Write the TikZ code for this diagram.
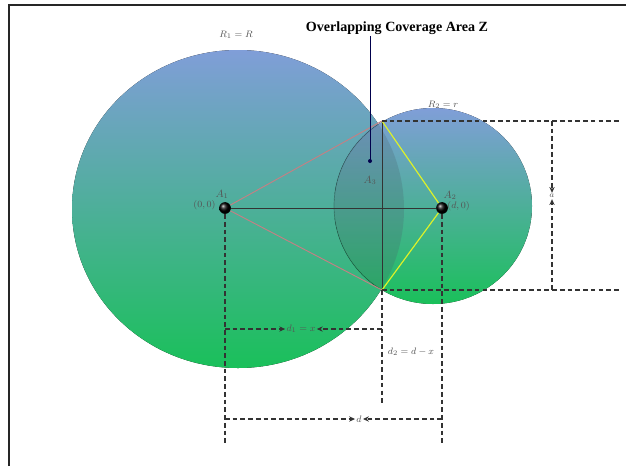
\documentclass[tikz,border=0pt]{standalone}
\usepackage{fontspec}
\setmainfont{Liberation Serif}
\usetikzlibrary{arrows.meta}

\definecolor{capTop}{RGB}{128,158,216}
\definecolor{capMid}{RGB}{68,166,162}
\definecolor{capBot}{RGB}{26,192,90}
\definecolor{spokePink}{RGB}{196,128,132}
\definecolor{spokeYellow}{RGB}{222,242,40}
\definecolor{lblGray}{RGB}{85,85,85}

\begin{document}
\begin{tikzpicture}[
  x=0.03cm, y=-0.03cm,
  cover/.style={top color=capTop, middle color=capMid, bottom color=capBot},
  dim/.style={dash pattern=on 4pt off 2.6pt, line width=1pt, black!80},
  dimarrow/.style={dim, -{Stealth[length=5pt, width=4.5pt]}},
  lbl/.style={font=\footnotesize, text=lblGray, inner sep=1pt},
  hub/.style={circle, ball color=black, inner sep=0pt, minimum size=10pt},
]
\useasboundingbox (0,0) rectangle (626,466);

% Circle geometry (pixel units)
\def\Rx{166}     % big circle x radius
\def\Ry{159}     % big circle y radius
\def\rx{99}      % small circle x radius
\def\ry{98}      % small circle y radius

\coordinate (B) at (238,209);   % big circle centre
\coordinate (S) at (433,206);   % small circle centre
\coordinate (P) at (382,121);   % upper crossing
\coordinate (Q) at (382,290);   % lower crossing

% ============================================================
% FRAME
% ============================================================
\draw[black!85, line width=1.2pt] (9,466) -- (9,5) -- (626,5);

% ============================================================
% COVERAGE DISCS
% ============================================================
\fill[cover] (B) ellipse [x radius=\Rx, y radius=\Ry];
\fill[cover] (S) ellipse [x radius=\rx, y radius=\ry];

% overlapping lens
\begin{scope}
  \clip (B) ellipse [x radius=\Rx, y radius=\Ry];
  \fill[cyan!35!black, opacity=0.25] (S) ellipse [x radius=\rx, y radius=\ry];
  \draw[black, opacity=0.25, line width=0.6pt]
    (S) ellipse [x radius=\rx, y radius=\ry];
\end{scope}

% ============================================================
% CENTRES AND CHORD
% ============================================================
\node[hub] (A1) at (225,208) {};
\node[hub] (A2) at (442,208) {};

\draw[black!80, line width=0.6pt] (A1) -- (A2);
\draw[black!80, line width=0.6pt] (P) -- (Q);
\draw[spokePink, line width=0.8pt] (A1) -- (P);
\draw[spokePink, line width=0.8pt] (A1) -- (Q);
\draw[spokeYellow, line width=1pt] (A2) -- (P);
\draw[spokeYellow, line width=1pt] (A2) -- (Q);

\node[lbl, font=\small, anchor=south] (a1lbl) at (222,200) {$A_1$};
\node[lbl, anchor=east] (o1lbl) at (217,205) {$(0,0)$};
\node[lbl, font=\small, anchor=south] (a2lbl) at (450,201) {$A_2$};
\node[lbl, anchor=west] (o2lbl) at (446,206) {$(d,0)$};

% ============================================================
% TITLE AND POINTER
% ============================================================
\node[font=\fontsize{12}{14}\selectfont\bfseries, inner sep=1pt] (title)
  at (397,28) {Overlapping Coverage Area Z};
\coordinate (ptr) at (370,161);
\draw[black!70!blue, line width=0.8pt] (title.south -| ptr) -- (ptr);
\fill[black!70!blue] (ptr) circle [radius=2];
\node[lbl, font=\small] (a3lbl) at (370,180) {$A_3$};

\node[lbl] (r1lbl) at (236,35) {$R_1 = R$};
\node[lbl] (r2lbl) at (443,105) {$R_2 = r$};

% ============================================================
% DIMENSION a (right)
% ============================================================
\coordinate (aTop) at (552,121);
\coordinate (aBot) at (552,290);
\draw[dim] (P) -- (620,121);
\draw[dim] (Q) -- (620,290);
\node[lbl, font=\scriptsize] (albl) at (552,196) {$a$};
\draw[dimarrow] (aTop) -- (albl.north);
\draw[dimarrow] (aBot) -- (albl.south);

% ============================================================
% DIMENSIONS d1, d2, d (bottom)
% ============================================================
\draw[dim] (A1) -- (225,443);
\draw[dim] (A2) -- (442,443);
\draw[dim] (Q) -- (382,403);

\node[lbl] (d1lbl) at (301,329) {$d_1 = x$};
\draw[dimarrow] (225,329) -- (d1lbl.west);
\draw[dimarrow] (382,329) -- (d1lbl.east);

\node[lbl] (d2lbl) at (411,352) {$d_2 = d - x$};

\node[lbl] (dlbl) at (359,419) {$d$};
\draw[dimarrow] (225,419) -- (dlbl.west);
\draw[dimarrow] (442,419) -- (dlbl.east);

\end{tikzpicture}
\end{document}
